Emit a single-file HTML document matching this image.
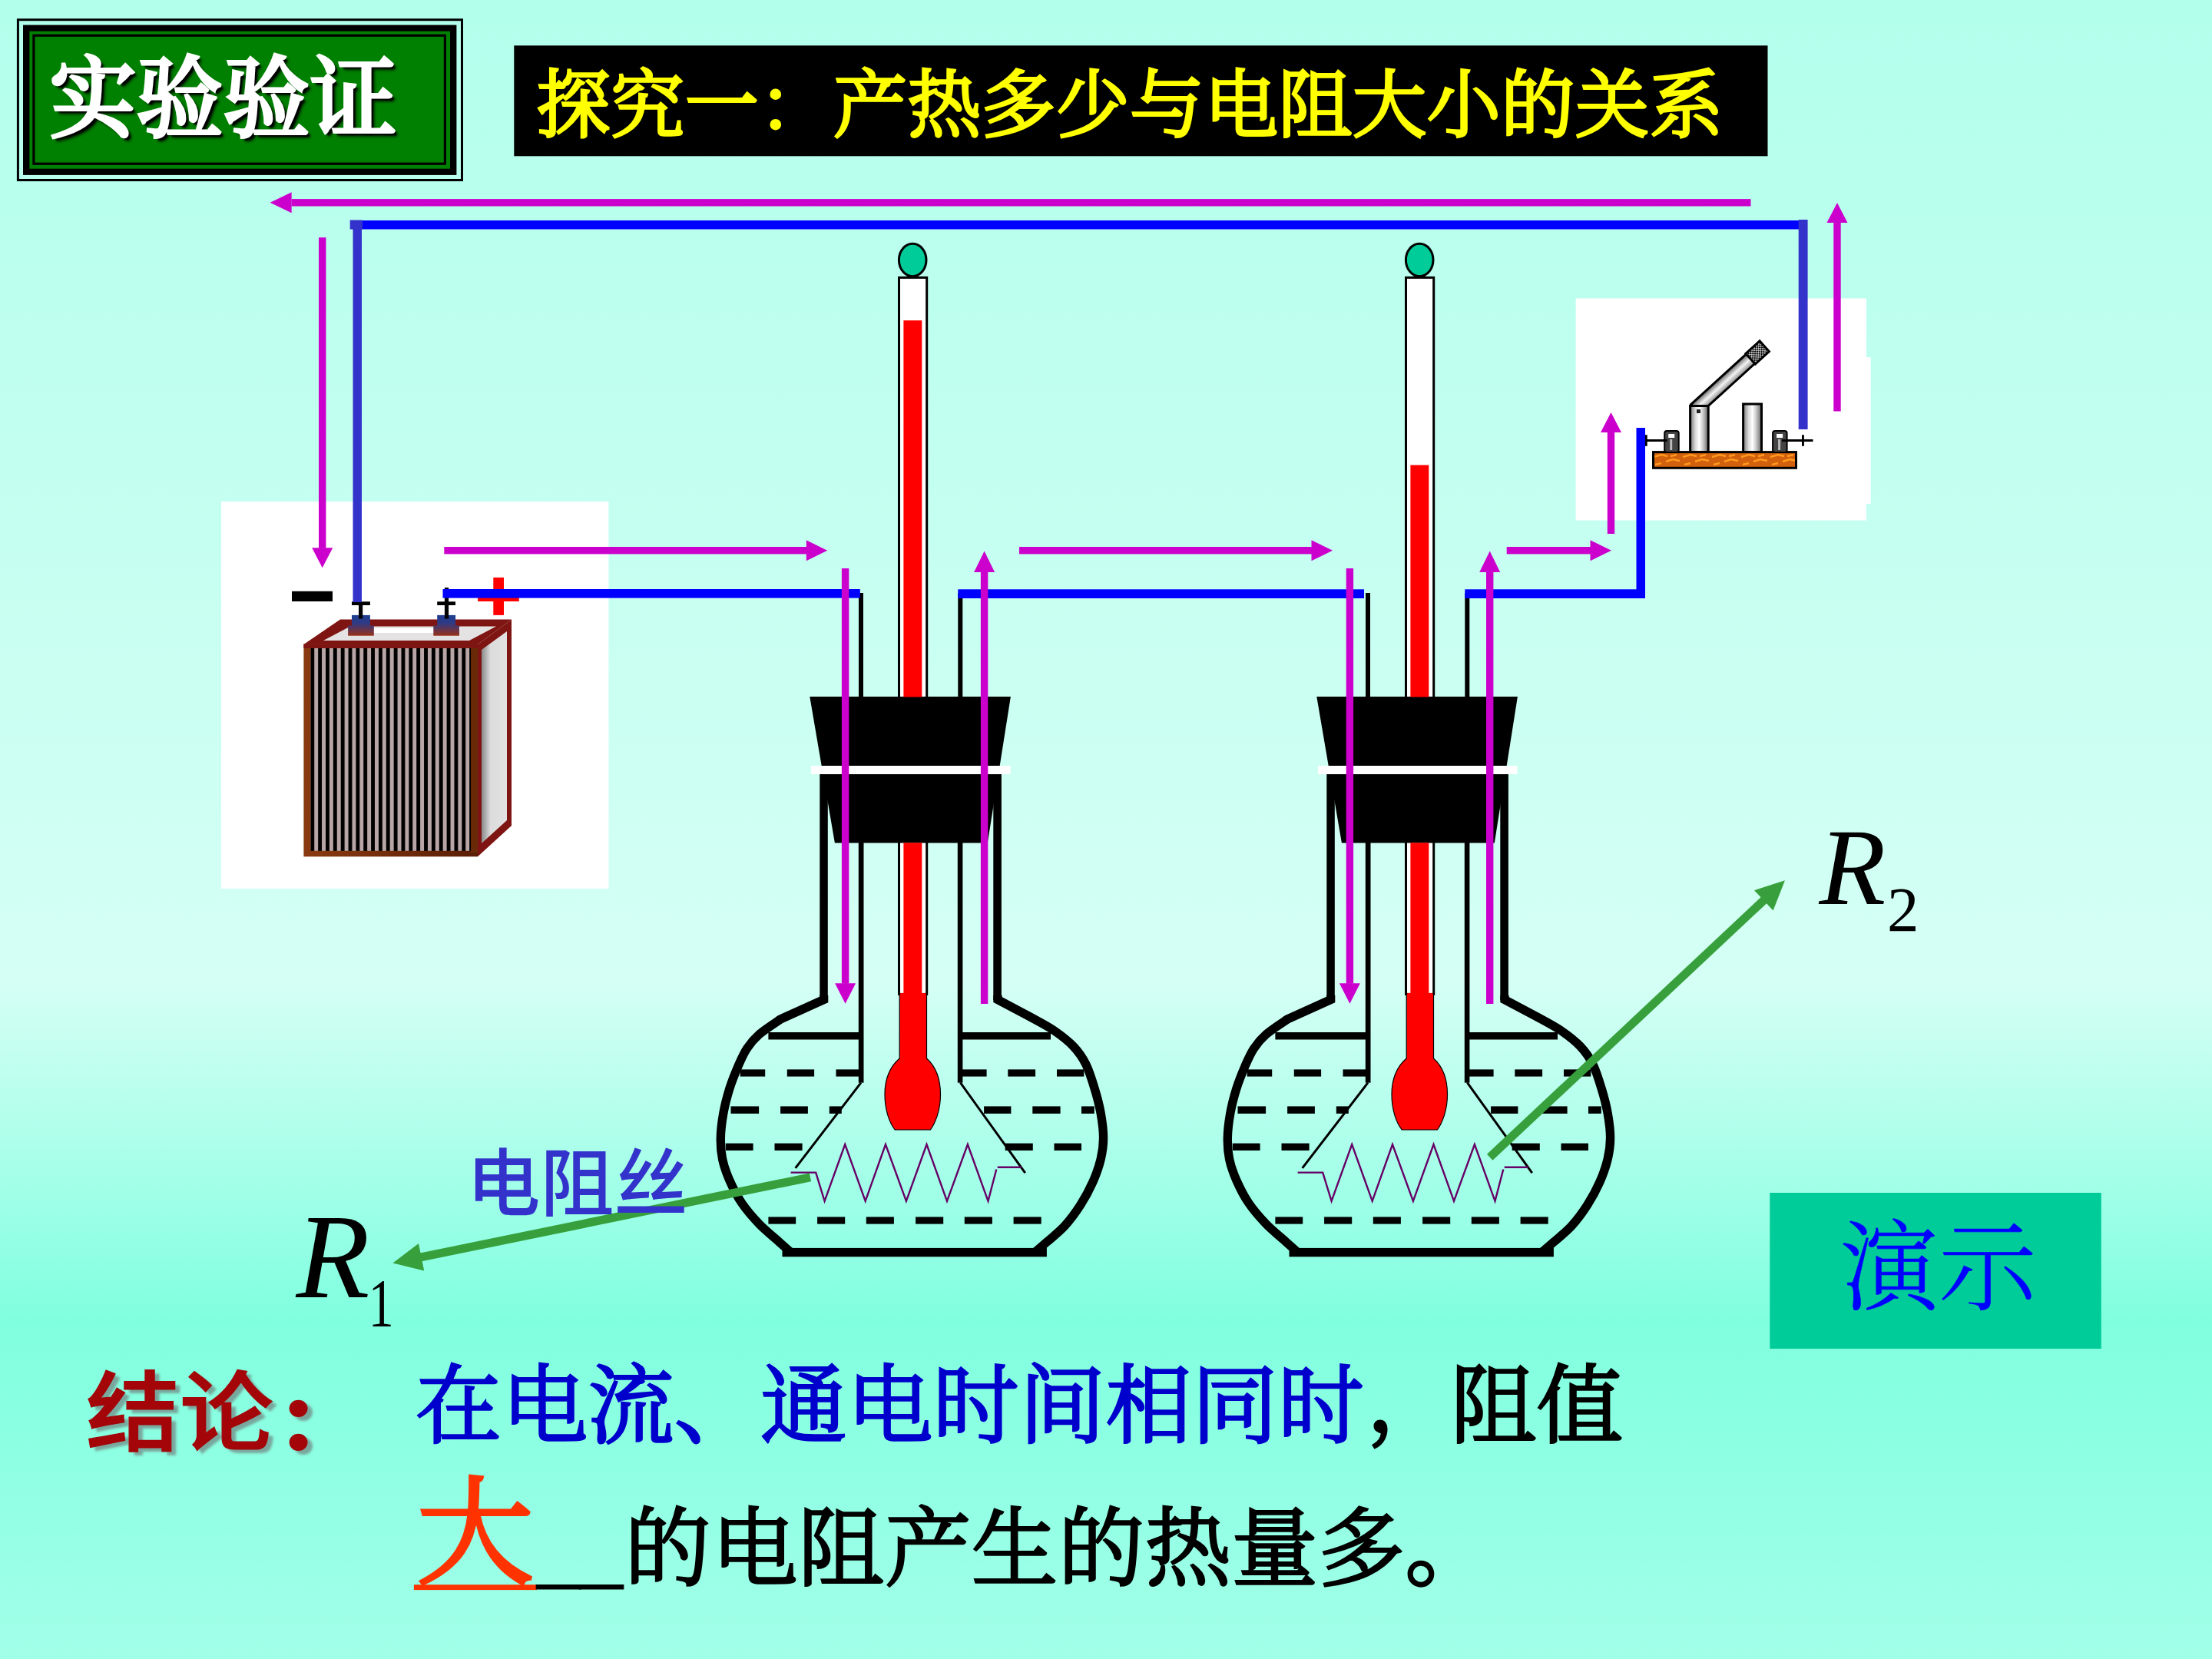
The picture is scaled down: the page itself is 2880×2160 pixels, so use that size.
<!DOCTYPE html>
<html lang="zh"><head><meta charset="utf-8"><title>实验验证</title>
<style>
html,body{margin:0;padding:0;}
body{width:2880px;height:2160px;overflow:hidden;position:relative;
background:linear-gradient(to bottom,#B2FFEC 0px,#D5FFF5 1280px,#80FFDF 1718px,#A2FFE8 2160px);
font-family:"Liberation Serif","Noto Serif CJK SC",serif;}
svg.g{position:absolute;left:0;top:0;}
.t{position:absolute;white-space:nowrap;line-height:1;margin:0;}
.song{font-family:"Liberation Serif","Noto Serif CJK SC",serif;font-weight:300;-webkit-text-stroke:3.5px currentColor;}
#t1{left:64.5px;top:73px;font-size:113px;color:#fff;font-weight:500;-webkit-text-stroke:4px #fff;text-shadow:4px 4px 2px #000,5px 5px 4px #000;transform:scaleY(1.03);}
#t2{left:698.5px;top:90px;font-size:96px;color:#FFFF00;letter-spacing:0.6px;-webkit-text-stroke:3.9px #FFFF00;}
#t3{left:607.5px;top:1494px;font-size:96px;color:#3333CC;font-family:"Liberation Sans","Noto Sans CJK SC",sans-serif;font-weight:500;}
#r1{left:385.5px;top:1557.5px;font-size:157px;font-style:italic;font-family:"Liberation Serif",serif;}
#r1 span,#r2 span{font-style:normal;position:absolute;}
#r1 span{font-size:89px;left:88px;top:94.5px;transform:scaleX(0.74);}
#r2{left:2368.5px;top:1058px;font-size:142px;font-style:italic;font-family:"Liberation Serif",serif;}
#r2 span{font-size:83px;left:88.5px;top:85px;}
#t4{left:2396px;top:1588.5px;font-size:128px;color:#0000FF;font-family:"Liberation Serif","Noto Serif CJK SC",serif;font-weight:300;-webkit-text-stroke:0.6px #0000FF;}
#t5{left:112px;top:1783.8px;font-size:114px;color:#A30508;font-family:"Liberation Sans","Noto Sans CJK SC",sans-serif;font-weight:500;-webkit-text-stroke:1.2px #A30508;text-shadow:6px 5px 3px rgba(110,120,120,.65);transform-origin:left top;transform:scaleX(1.07);}
#t5 i{font-style:normal;font-family:'Liberation Serif',serif;font-weight:700;-webkit-text-stroke:0;font-size:138px;position:absolute;left:236px;top:-12px;line-height:1;}
#t6{left:541px;top:1776px;font-size:112px;letter-spacing:0.3px;color:#0000CC;}
#t6 b{color:#000;font-weight:300;}
#t6 u{text-decoration:none;position:relative;top:-7px;left:3px;}
#t7a{left:542.5px;top:1923px;font-size:152px;font-weight:300;-webkit-text-stroke:5px #FF3300;color:#FF3300;}
#t7b{left:699px;top:1961px;font-size:112px;color:#000;-webkit-text-stroke:1px #000;}
#t7c{left:813.5px;top:1961.5px;font-size:112px;letter-spacing:0.9px;color:#000;}
</style></head><body>
<svg class="g" width="2880" height="2160" viewBox="0 0 2880 2160">
<rect x="288.0" y="653.0" width="504.5" height="504.0" fill="#fff" />
<rect x="2051.6" y="388.5" width="378.4" height="289.0" fill="#fff" />
<rect x="2430.0" y="465.0" width="5.7" height="191.0" fill="#fff" />
<defs>
<pattern id="stripes" x="404.3" y="0" width="9.85" height="10" patternUnits="userSpaceOnUse"><rect x="0" y="0" width="4.9" height="10" fill="#000"/><rect x="4.9" y="0" width="4.95" height="10" fill="#B8A6A6"/></pattern>
<linearGradient id="brn" x1="0" x2="1" y1="0" y2="0"><stop offset="0" stop-color="#8A3A10"/><stop offset="1" stop-color="#5A1E05"/></linearGradient>
<linearGradient id="term" gradientUnits="userSpaceOnUse" x1="0" x2="0" y1="800" y2="828"><stop offset="0" stop-color="#1C3E92"/><stop offset="0.4" stop-color="#2F3A85"/><stop offset="1" stop-color="#9A2F16"/></linearGradient>
<linearGradient id="rface" x1="0" x2="1" y1="0" y2="0"><stop offset="0" stop-color="#8a8a8a"/><stop offset="0.35" stop-color="#dcdcdc"/><stop offset="1" stop-color="#e2e2e2"/></linearGradient>
<linearGradient id="post" x1="0" x2="1" y1="0" y2="0"><stop offset="0" stop-color="#777"/><stop offset="0.3" stop-color="#ddd"/><stop offset="0.5" stop-color="#fff"/><stop offset="0.7" stop-color="#ccc"/><stop offset="1" stop-color="#666"/></linearGradient>
<linearGradient id="lever" x1="0" x2="0" y1="0" y2="1"><stop offset="0" stop-color="#666"/><stop offset="0.5" stop-color="#f4f4f4"/><stop offset="1" stop-color="#888"/></linearGradient>
<pattern id="wood" x="2151" y="587" width="38" height="24" patternUnits="userSpaceOnUse"><rect width="38" height="24" fill="#D2600C"/><path d="M2,8 l10,-3 l8,2 M18,14 l9,-3 l9,2 M4,18 l8,-2 M24,7 l8,-2" stroke="#FF9A1F" stroke-width="2.5" fill="none"/></pattern>
<pattern id="chk" width="4" height="4" patternUnits="userSpaceOnUse"><rect width="4" height="4" fill="#000"/><rect width="2" height="2" fill="#ccc"/><rect x="2" y="2" width="2" height="2" fill="#ccc"/></pattern>
</defs>
<polygon points="395.4,839 443,806.4 666,806.4 622,839" fill="#7E1512"/>
<polygon points="421,834 456,815.5 646,815.5 611,834" fill="#E4E2E2"/>
<polygon points="470,824 482,818 600,818 590,824" fill="#fff"/>
<polygon points="622,839 666,806.4 666,1075 622,1115.3" fill="#7E1512"/>
<polygon points="627,846 660,822 660,1068 627,1098" fill="url(#rface)"/>
<rect x="395.4" y="838.6" width="226.6" height="276.7" fill="url(#brn)" />
<rect x="395.4" y="838.6" width="226.6" height="5.4" fill="#7E1512" />
<rect x="404.3" y="844.0" width="208.9" height="263.8" fill="url(#stripes)" />
<rect x="613.2" y="844.0" width="8.8" height="266.0" fill="#6A2A08" />
<rect x="458.0" y="800.9" width="23.9" height="14.1" fill="url(#term)" />
<rect x="453.1" y="814.6" width="33.7" height="13.1" fill="url(#term)" />
<rect x="569.2" y="800.9" width="23.9" height="14.1" fill="url(#term)" />
<rect x="564.3" y="814.6" width="33.7" height="13.1" fill="url(#term)" />
<rect x="458.0" y="783.3" width="23.9" height="4.7" fill="#000" />
<rect x="467.0" y="788.0" width="5.2" height="17.6" fill="#000" />
<rect x="569.2" y="783.3" width="23.8" height="4.7" fill="#000" />
<rect x="578.9" y="765.0" width="5.2" height="40.6" fill="#000" />
<rect x="380.0" y="769.8" width="53.0" height="13.2" fill="#000" />
<rect x="642.3" y="751.9" width="13.7" height="49.0" fill="#FF0000" />
<rect x="622.1" y="769.3" width="53.7" height="13.7" fill="#FF0000" />
<rect x="2152.5" y="588.6" width="186.0" height="20.7" fill="url(#wood)" stroke="#000" stroke-width="3"/>
<rect x="2167.2" y="561" width="18.5" height="28" rx="3" fill="#444" stroke="#000" stroke-width="2"/>
<rect x="2172.2" y="565.0" width="8.0" height="5.0" fill="#fff" />
<rect x="2174.2" y="572.0" width="3.0" height="14.0" fill="#bbb" />
<rect x="2308.1" y="561" width="18.5" height="28" rx="3" fill="#444" stroke="#000" stroke-width="2"/>
<rect x="2313.1" y="565.0" width="8.0" height="5.0" fill="#fff" />
<rect x="2315.1" y="572.0" width="3.0" height="14.0" fill="#bbb" />
<rect x="2142.8" y="572.0" width="27.8" height="3.0" fill="#000" />
<rect x="2142.0" y="566.2" width="2.7" height="14.6" fill="#000" />
<rect x="2320.0" y="572.0" width="40.5" height="3.0" fill="#000" />
<rect x="2346.0" y="566.2" width="2.9" height="14.6" fill="#000" />
<g transform="translate(2214,526.5) rotate(-42.3)"><rect x="-9" y="-8.3" width="98" height="16.6" fill="url(#lever)" stroke="#000" stroke-width="3"/><rect x="88" y="-9.2" width="24.5" height="18.4" fill="url(#chk)" stroke="#000" stroke-width="3"/></g>
<rect x="2200.6" y="528.5" width="23.6" height="60" fill="url(#post)" stroke="#000" stroke-width="3"/>
<rect x="2269.6" y="526" width="23.9" height="62.5" fill="url(#post)" stroke="#000" stroke-width="3"/>
<rect x="2209.0" y="533.0" width="5.0" height="5.0" fill="#222" />
<rect x="669.3" y="59.3" width="1632.2" height="144.0" fill="#000" />
<rect x="23.4" y="25.7" width="578.1" height="208.8" fill="none" stroke="#000" stroke-width="3"/>
<rect x="30.0" y="32.5" width="564.4" height="195.4" fill="#000" />
<rect x="38.4" y="40.7" width="547.6" height="179.0" fill="#008000" />
<rect x="43.9" y="46.2" width="535.5" height="167.0" fill="none" stroke="#000" stroke-width="3.2"/>
<g><rect x="1118.0" y="772.0" width="6.0" height="138.0" fill="#000" /><rect x="1247.3" y="772.0" width="6.0" height="138.0" fill="#000" /><rect x="1170.5" y="361.4" width="36.2" height="933" fill="#fff" stroke="#000" stroke-width="3"/><polygon points="1054.3,907.1 1315.9,907.1 1285.8,1097.6 1086.9,1097.6" fill="#000"/><rect x="1056.0" y="997.0" width="259.5" height="11.0" fill="#fff" /><rect x="1067.3" y="1008.0" width="10.5" height="294.0" fill="#000" /><rect x="1293.3" y="1008.0" width="10.6" height="294.0" fill="#000" /><path d="M1072.6,1296 L1072.6,1301.5 L1016.2,1327.0 C1011.6,1330.2 996.0,1340.2 988.7,1346.5 C981.5,1352.8 977.3,1357.9 972.7,1364.8 C968.1,1371.7 965.0,1378.9 961.2,1387.7 C957.4,1396.5 953.0,1407.2 949.8,1417.5 C946.6,1427.8 943.7,1438.9 941.8,1449.6 C939.9,1460.3 938.5,1471.7 938.3,1481.6 C938.1,1491.5 938.7,1499.9 940.6,1509.1 C942.5,1518.3 945.6,1527.0 949.8,1536.6 C954.0,1546.1 959.3,1556.9 965.8,1566.4 C972.3,1576.0 981.1,1585.9 988.7,1593.9 C996.4,1601.9 1005.0,1608.5 1011.7,1614.5 C1018.4,1620.5 1026.1,1627.4 1029.0,1630.0 M1299,1296 L1299,1301.5 L1340.4,1323.5 C1345.8,1326.6 1363.0,1335.4 1372.5,1341.9 C1382.0,1348.4 1390.8,1355.2 1397.7,1362.5 C1404.6,1369.8 1409.1,1376.2 1413.7,1385.4 C1418.3,1394.6 1422.0,1406.8 1425.2,1417.5 C1428.5,1428.2 1431.3,1438.9 1433.2,1449.6 C1435.1,1460.3 1436.6,1471.7 1436.6,1481.6 C1436.6,1491.5 1435.5,1499.5 1433.2,1509.1 C1430.9,1518.6 1427.3,1529.0 1422.9,1538.9 C1418.5,1548.8 1413.0,1559.2 1406.9,1568.7 C1400.8,1578.2 1393.5,1588.2 1386.2,1596.2 C1378.9,1604.2 1369.7,1611.2 1363.3,1616.8 C1356.9,1622.4 1350.5,1627.8 1348.0,1630.0" fill="none" stroke="#000" stroke-width="11.4" stroke-linejoin="miter"/><rect x="1018.5" y="1624.9" width="344.4" height="11.4" fill="#000" /><rect x="1117.8" y="1097.0" width="6.7" height="312.7" fill="#000" /><rect x="1246.8" y="1097.0" width="6.6" height="312.7" fill="#000" /><path d="M1121,1409.7 L1035.6,1520.9 M1250.4,1409.7 L1334.8,1527.2" stroke="#000" stroke-width="3" fill="none"/><rect x="1000.4" y="1344.0" width="117.6" height="9.5" fill="#000" /><rect x="1253.0" y="1344.0" width="115.0" height="9.5" fill="#000" /><rect x="963.7" y="1392.4" width="32.5" height="9.2" fill="#000" /><rect x="1024.8" y="1392.4" width="35.3" height="9.2" fill="#000" /><rect x="1088.5" y="1392.4" width="35.3" height="9.2" fill="#000" /><rect x="1252.6" y="1392.4" width="32.0" height="9.2" fill="#000" /><rect x="1312.3" y="1392.4" width="35.8" height="9.2" fill="#000" /><rect x="1376.0" y="1392.4" width="35.3" height="9.2" fill="#000" /><rect x="951.5" y="1440.4" width="36.6" height="9.5" fill="#000" /><rect x="1016.1" y="1440.4" width="35.8" height="9.5" fill="#000" /><rect x="1079.8" y="1440.4" width="16.0" height="9.5" fill="#000" /><rect x="1281.1" y="1440.4" width="35.3" height="9.5" fill="#000" /><rect x="1344.3" y="1440.4" width="36.3" height="9.5" fill="#000" /><rect x="1408.0" y="1440.4" width="16.8" height="9.5" fill="#000" /><rect x="944.8" y="1488.6" width="35.8" height="9.3" fill="#000" /><rect x="1008.5" y="1488.6" width="36.1" height="9.3" fill="#000" /><rect x="1308.7" y="1488.6" width="36.1" height="9.3" fill="#000" /><rect x="1372.5" y="1488.6" width="35.5" height="9.3" fill="#000" /><rect x="1000.4" y="1584.4" width="35.8" height="9.2" fill="#000" /><rect x="1064.1" y="1584.4" width="36.1" height="9.2" fill="#000" /><rect x="1127.8" y="1584.4" width="36.1" height="9.2" fill="#000" /><rect x="1192.1" y="1584.4" width="36.1" height="9.2" fill="#000" /><rect x="1255.8" y="1584.4" width="36.1" height="9.2" fill="#000" /><rect x="1319.6" y="1584.4" width="36.1" height="9.2" fill="#000" /><path d="M1029.6,1526.6 L1062.2,1526.6 L1073.6,1563.8 L1100.2,1490 L1126.7,1563.8 L1153,1490 L1179.9,1563.8 L1206.5,1490 L1233,1563.8 L1259.9,1490 L1286.5,1563.8 L1297.3,1522.5 M1298.7,1519.8 L1329.9,1519.8" fill="none" stroke="#660066" stroke-width="2.4"/><path d="M1171.2,1294 L1206.5,1294 L1206.5,1378 C1222,1392 1224.5,1410 1224.5,1425 C1224.5,1445 1218,1462 1211.4,1471 L1165.3,1471 C1158,1462 1152,1445 1152,1425 C1152,1410 1155,1392 1171.2,1378 Z" fill="#FF0000" stroke="#000" stroke-width="1.2"/><rect x="1172.2" y="1293.0" width="33.3" height="7.0" fill="#FF0000" /></g>
<g transform="translate(660,0)"><g><rect x="1118.0" y="772.0" width="6.0" height="138.0" fill="#000" /><rect x="1247.3" y="772.0" width="6.0" height="138.0" fill="#000" /><rect x="1170.5" y="361.4" width="36.2" height="933" fill="#fff" stroke="#000" stroke-width="3"/><polygon points="1054.3,907.1 1315.9,907.1 1285.8,1097.6 1086.9,1097.6" fill="#000"/><rect x="1056.0" y="997.0" width="259.5" height="11.0" fill="#fff" /><rect x="1067.3" y="1008.0" width="10.5" height="294.0" fill="#000" /><rect x="1293.3" y="1008.0" width="10.6" height="294.0" fill="#000" /><path d="M1072.6,1296 L1072.6,1301.5 L1016.2,1327.0 C1011.6,1330.2 996.0,1340.2 988.7,1346.5 C981.5,1352.8 977.3,1357.9 972.7,1364.8 C968.1,1371.7 965.0,1378.9 961.2,1387.7 C957.4,1396.5 953.0,1407.2 949.8,1417.5 C946.6,1427.8 943.7,1438.9 941.8,1449.6 C939.9,1460.3 938.5,1471.7 938.3,1481.6 C938.1,1491.5 938.7,1499.9 940.6,1509.1 C942.5,1518.3 945.6,1527.0 949.8,1536.6 C954.0,1546.1 959.3,1556.9 965.8,1566.4 C972.3,1576.0 981.1,1585.9 988.7,1593.9 C996.4,1601.9 1005.0,1608.5 1011.7,1614.5 C1018.4,1620.5 1026.1,1627.4 1029.0,1630.0 M1299,1296 L1299,1301.5 L1340.4,1323.5 C1345.8,1326.6 1363.0,1335.4 1372.5,1341.9 C1382.0,1348.4 1390.8,1355.2 1397.7,1362.5 C1404.6,1369.8 1409.1,1376.2 1413.7,1385.4 C1418.3,1394.6 1422.0,1406.8 1425.2,1417.5 C1428.5,1428.2 1431.3,1438.9 1433.2,1449.6 C1435.1,1460.3 1436.6,1471.7 1436.6,1481.6 C1436.6,1491.5 1435.5,1499.5 1433.2,1509.1 C1430.9,1518.6 1427.3,1529.0 1422.9,1538.9 C1418.5,1548.8 1413.0,1559.2 1406.9,1568.7 C1400.8,1578.2 1393.5,1588.2 1386.2,1596.2 C1378.9,1604.2 1369.7,1611.2 1363.3,1616.8 C1356.9,1622.4 1350.5,1627.8 1348.0,1630.0" fill="none" stroke="#000" stroke-width="11.4" stroke-linejoin="miter"/><rect x="1018.5" y="1624.9" width="344.4" height="11.4" fill="#000" /><rect x="1117.8" y="1097.0" width="6.7" height="312.7" fill="#000" /><rect x="1246.8" y="1097.0" width="6.6" height="312.7" fill="#000" /><path d="M1121,1409.7 L1035.6,1520.9 M1250.4,1409.7 L1334.8,1527.2" stroke="#000" stroke-width="3" fill="none"/><rect x="1000.4" y="1344.0" width="117.6" height="9.5" fill="#000" /><rect x="1253.0" y="1344.0" width="115.0" height="9.5" fill="#000" /><rect x="963.7" y="1392.4" width="32.5" height="9.2" fill="#000" /><rect x="1024.8" y="1392.4" width="35.3" height="9.2" fill="#000" /><rect x="1088.5" y="1392.4" width="35.3" height="9.2" fill="#000" /><rect x="1252.6" y="1392.4" width="32.0" height="9.2" fill="#000" /><rect x="1312.3" y="1392.4" width="35.8" height="9.2" fill="#000" /><rect x="1376.0" y="1392.4" width="35.3" height="9.2" fill="#000" /><rect x="951.5" y="1440.4" width="36.6" height="9.5" fill="#000" /><rect x="1016.1" y="1440.4" width="35.8" height="9.5" fill="#000" /><rect x="1079.8" y="1440.4" width="16.0" height="9.5" fill="#000" /><rect x="1281.1" y="1440.4" width="35.3" height="9.5" fill="#000" /><rect x="1344.3" y="1440.4" width="36.3" height="9.5" fill="#000" /><rect x="1408.0" y="1440.4" width="16.8" height="9.5" fill="#000" /><rect x="944.8" y="1488.6" width="35.8" height="9.3" fill="#000" /><rect x="1008.5" y="1488.6" width="36.1" height="9.3" fill="#000" /><rect x="1308.7" y="1488.6" width="36.1" height="9.3" fill="#000" /><rect x="1372.5" y="1488.6" width="35.5" height="9.3" fill="#000" /><rect x="1000.4" y="1584.4" width="35.8" height="9.2" fill="#000" /><rect x="1064.1" y="1584.4" width="36.1" height="9.2" fill="#000" /><rect x="1127.8" y="1584.4" width="36.1" height="9.2" fill="#000" /><rect x="1192.1" y="1584.4" width="36.1" height="9.2" fill="#000" /><rect x="1255.8" y="1584.4" width="36.1" height="9.2" fill="#000" /><rect x="1319.6" y="1584.4" width="36.1" height="9.2" fill="#000" /><path d="M1029.6,1526.6 L1062.2,1526.6 L1073.6,1563.8 L1100.2,1490 L1126.7,1563.8 L1153,1490 L1179.9,1563.8 L1206.5,1490 L1233,1563.8 L1259.9,1490 L1286.5,1563.8 L1297.3,1522.5 M1298.7,1519.8 L1329.9,1519.8" fill="none" stroke="#660066" stroke-width="2.4"/><path d="M1171.2,1294 L1206.5,1294 L1206.5,1378 C1222,1392 1224.5,1410 1224.5,1425 C1224.5,1445 1218,1462 1211.4,1471 L1165.3,1471 C1158,1462 1152,1445 1152,1425 C1152,1410 1155,1392 1171.2,1378 Z" fill="#FF0000" stroke="#000" stroke-width="1.2"/><rect x="1172.2" y="1293.0" width="33.3" height="7.0" fill="#FF0000" /></g></g>
<rect x="459.0" y="287.0" width="1893.0" height="11.5" fill="#0000FF" />
<rect x="459.5" y="287.0" width="11.5" height="497.0" fill="#3333CC" />
<rect x="455.7" y="286.5" width="16.3" height="12.0" fill="#3333CC" />
<rect x="2341.7" y="286.0" width="11.9" height="273.0" fill="#3333CC" />
<rect x="576.5" y="767.0" width="543.3" height="11.6" fill="#0000FF" />
<rect x="1247.3" y="767.3" width="528.7" height="11.7" fill="#0000FF" />
<rect x="1907.3" y="767.3" width="228.7" height="11.7" fill="#0000FF" />
<rect x="2130.5" y="557.0" width="11.5" height="222.0" fill="#0000FF" />
<rect x="1176.4" y="417.2" width="23.9" height="490.3" fill="#FF0000" />
<rect x="1176.4" y="1097.3" width="23.9" height="198.7" fill="#FF0000" />
<rect x="1836.4" y="605.5" width="23.9" height="302.0" fill="#FF0000" />
<rect x="1836.4" y="1097.3" width="23.9" height="198.7" fill="#FF0000" />
<ellipse cx="1188.2" cy="338.5" rx="17.8" ry="21.3" fill="#00CC99" stroke="#000" stroke-width="3"/>
<ellipse cx="1848.2" cy="338.5" rx="17.8" ry="21.3" fill="#00CC99" stroke="#000" stroke-width="3"/>
<rect x="379.6" y="259.1" width="1899.9" height="9.4" fill="#CC00CC"/><polygon points="379.6,250.3 351.6,263.8 379.6,277.3" fill="#CC00CC"/>
<rect x="415.0" y="309.2" width="9.4" height="404.5" fill="#CC00CC"/><polygon points="406.2,713.2 419.7,739.3 433.2,713.2" fill="#CC00CC"/>
<rect x="578.3" y="712.0" width="472.0" height="9.4" fill="#CC00CC"/><polygon points="1049.8,703.2 1077.2,716.7 1049.8,730.2" fill="#CC00CC"/>
<rect x="1095.9" y="740.0" width="9.4" height="540.8" fill="#CC00CC"/><polygon points="1087.1,1280.3 1100.6,1306.7 1114.1,1280.3" fill="#CC00CC"/>
<rect x="1276.9" y="745.0" width="9.4" height="562.0" fill="#CC00CC"/><polygon points="1268.1,745.0 1281.6,717.5 1295.1,745.0" fill="#CC00CC"/>
<rect x="1327.0" y="712.0" width="381.0" height="9.4" fill="#CC00CC"/><polygon points="1707.5,703.2 1735.1,716.7 1707.5,730.2" fill="#CC00CC"/>
<rect x="1752.7" y="740.0" width="9.4" height="540.8" fill="#CC00CC"/><polygon points="1743.9,1280.3 1757.4,1306.7 1770.9,1280.3" fill="#CC00CC"/>
<rect x="1935.0" y="745.0" width="9.4" height="562.0" fill="#CC00CC"/><polygon points="1926.2,745.0 1939.7,717.5 1953.2,745.0" fill="#CC00CC"/>
<rect x="1961.7" y="712.0" width="109.3" height="9.4" fill="#CC00CC"/><polygon points="2070.5,703.2 2098.0,716.7 2070.5,730.2" fill="#CC00CC"/>
<rect x="2092.8" y="563.0" width="9.4" height="132.0" fill="#CC00CC"/><polygon points="2084.0,563.0 2097.5,537.0 2111.0,563.0" fill="#CC00CC"/>
<rect x="2387.3" y="290.0" width="9.4" height="245.5" fill="#CC00CC"/><polygon points="2378.5,290.0 2392.0,264.0 2405.5,290.0" fill="#CC00CC"/>
<line x1="1055.0" y1="1532.8" x2="546.7" y2="1637.2" stroke="#37A03C" stroke-width="11"/><polygon points="545.0,1619.1 511.4,1644.4 552.2,1654.4" fill="#37A03C"/>
<line x1="1939.7" y1="1506.8" x2="2297.7" y2="1170.9" stroke="#37A03C" stroke-width="11"/><polygon points="2308.6,1185.4 2324.0,1146.3 2284.0,1159.2" fill="#37A03C"/>
<rect x="538.9" y="2063.2" width="160.0" height="6.9" fill="#FF3300" />
<rect x="2304.3" y="1553.0" width="431.5" height="203.0" fill="#00CC99" />
</svg>
<div class="t song" id="t1">实验验证</div>
<div class="t song" id="t2">探究一：产热多少与电阻大小的关系</div>
<div class="t" id="t3">电阻丝</div>
<div class="t" id="r1">R<span>1</span></div>
<div class="t" id="r2">R<span>2</span></div>
<div class="t" id="t4">演示</div>
<div class="t" id="t5">结论<i>:</i></div>
<div class="t song" id="t6">在电流、通电时间相同时<b><u>，</u>阻值</b></div>
<div class="t" id="t7a">大</div>
<div class="t song" id="t7b">__</div>
<div class="t song" id="t7c">的电阻产生的热量多。</div>
</body></html>
